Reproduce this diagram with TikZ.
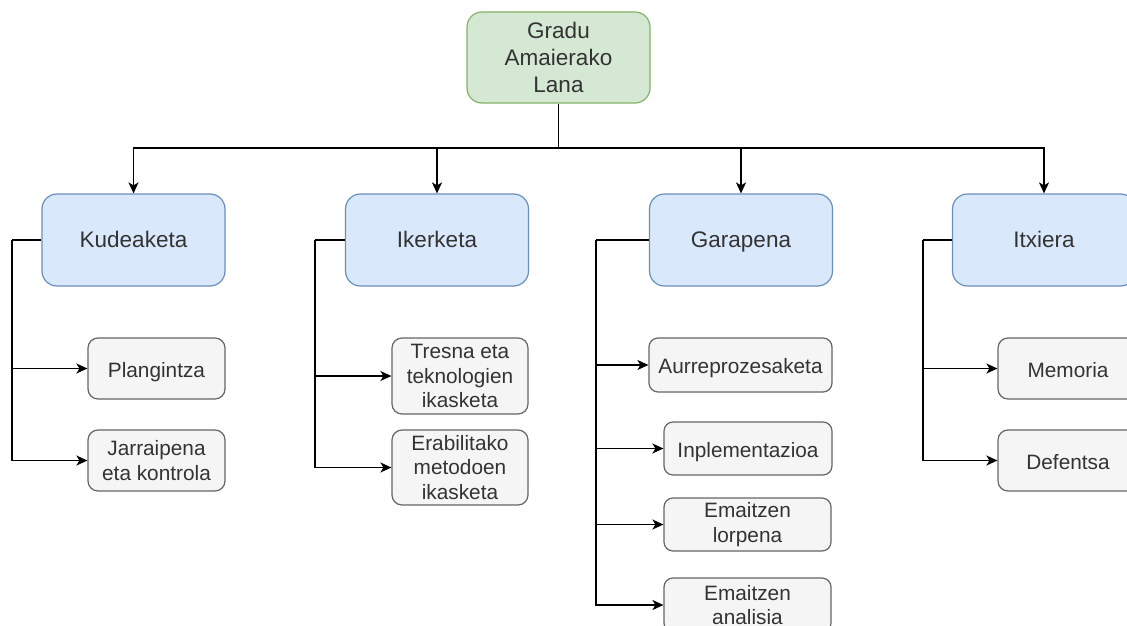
\documentclass[tikz,border=0pt]{standalone}
\usepackage{fontspec}
\setmainfont{Liberation Sans}
\usetikzlibrary{arrows.meta}
\definecolor{greenfill}{HTML}{D5E8D4}
\definecolor{greenline}{HTML}{82B366}
\definecolor{bluefill}{HTML}{DAE8FC}
\definecolor{blueline}{HTML}{6C8EBF}
\definecolor{grayfill}{HTML}{F5F5F5}
\definecolor{grayline}{HTML}{666666}
\definecolor{graytext}{HTML}{333333}
\begin{document}
\begin{tikzpicture}[x=1pt,y=-1pt,
  box/.style={draw, line width=1.2pt, align=center, inner sep=0pt, text=graytext},
  rootbox/.style={box, fill=greenfill, draw=greenline, rounded corners=15pt,
    minimum width=183pt, minimum height=91pt,
    font=\fontsize{22.5}{27}\selectfont},
  phasebox/.style={box, fill=bluefill, draw=blueline, rounded corners=15pt,
    minimum width=183pt, minimum height=92pt, text height=20pt, text depth=4.5pt,
    font=\fontsize{22.5}{27}\selectfont},
  taskbox/.style={box, fill=grayfill, draw=grayline, rounded corners=10pt,
    font=\fontsize{20.8}{24.8}\selectfont},
  oneline/.style={text height=21pt, text depth=4pt},
  link/.style={line width=1.6pt, draw=black},
  arr/.style={link, -{Stealth[length=11pt,width=10pt,inset=3pt]}}
]
\useasboundingbox (0,0) rectangle (1127,626);
\clip (0,0) rectangle (1127,626);
\fill[white] (0,0) rectangle (1127,626);

% root
\node[rootbox] (root) at (558.5,57.5) {Gradu\\Amaierako\\Lana};

% phases
\node[phasebox] (kud) at (133.5,240) {Kudeaketa};
\node[phasebox] (ike) at (437,240) {Ikerketa};
\node[phasebox] (gar) at (741,240) {Garapena};
\node[phasebox] (itx) at (1044,240) {Itxiera};

% tasks
\node[taskbox, oneline, minimum width=137pt, minimum height=61pt] (plan) at (156.5,368.5) {Plangintza};
\node[taskbox, minimum width=137pt, minimum height=61pt] (jarr) at (156.5,460.5) {Jarraipena\\eta kontrola};

\node[taskbox, minimum width=136pt, minimum height=76pt] (tres) at (460,376) {Tresna eta\\teknologien\\ikasketa};
\node[taskbox, minimum width=136pt, minimum height=75pt] (erab) at (460,467.5) {Erabilitako\\metodoen\\ikasketa};

\node[taskbox, oneline, rounded corners=9pt, minimum width=183pt, minimum height=54pt] (aurr) at (740.5,365) {Aurreprozesaketa};
\node[taskbox, oneline, rounded corners=9pt, minimum width=168pt, minimum height=53pt] (inpl) at (748,448.5) {Inplementazioa};
\node[taskbox, rounded corners=9pt, minimum width=167pt, minimum height=53pt] (lorp) at (747.5,524.5) {Emaitzen\\lorpena};
\node[taskbox, rounded corners=9pt, minimum width=167pt, minimum height=54pt] (anal) at (747.5,605) {Emaitzen\\analisia};

\node[taskbox, oneline, minimum width=140pt, minimum height=61pt] (memo) at (1068,368.5) {Memoria};
\node[taskbox, oneline, minimum width=140pt, minimum height=61pt] (defe) at (1068,460.5) {Defentsa};

% root to phases
\coordinate (bus) at (558.5,148);
\draw[link] (root.south) -- (bus);
\draw[arr] (bus) -| (kud.north);
\draw[arr] (bus) -| (ike.north);
\draw[arr] (bus) -| (gar.north);
\draw[arr] (bus) -| (itx.north);

% phases to tasks
\coordinate (kudrail) at (12,240);
\draw[link] (kud.west) -- (kudrail);
\draw[arr] (kudrail) |- (plan.west);
\draw[arr] (kudrail) |- (jarr.west);

\coordinate (ikerail) at (315,240);
\draw[link] (ike.west) -- (ikerail);
\draw[arr] (ikerail) |- (tres.west);
\draw[arr] (ikerail) |- (erab.west);

\coordinate (garrail) at (596,240);
\draw[link] (gar.west) -- (garrail);
\draw[arr] (garrail) |- (aurr.west);
\draw[arr] (garrail) |- (inpl.west);
\draw[arr] (garrail) |- (lorp.west);
\draw[arr] (garrail) |- (anal.west);

\coordinate (itxrail) at (923,240);
\draw[link] (itx.west) -- (itxrail);
\draw[arr] (itxrail) |- (memo.west);
\draw[arr] (itxrail) |- (defe.west);
\end{tikzpicture}
\end{document}
